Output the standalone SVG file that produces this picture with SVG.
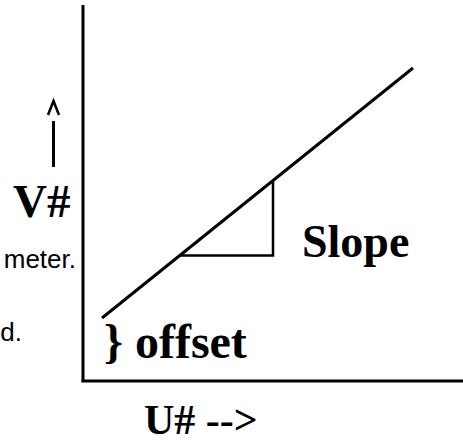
<svg xmlns="http://www.w3.org/2000/svg" width="463" height="443" viewBox="0 0 463 443">
<style>
.ln{stroke:#000;fill:none;stroke-linecap:butt}
.b{font-family:"Liberation Serif","Times New Roman",serif;font-weight:bold;fill:#000}
.s{font-family:"Liberation Sans",Arial,sans-serif;fill:#000}
</style>
<rect width="463" height="443" fill="#fff"/>
<g id="axes">
<line class="ln" x1="83" y1="5" x2="83" y2="382" stroke-width="3"/>
<line class="ln" x1="81.5" y1="381" x2="463" y2="381" stroke-width="3"/>
</g>
<g id="connectors">
<line class="ln" x1="102" y1="318" x2="413" y2="68" stroke-width="3"/>
<polyline class="ln" points="180,255.5 273,255.5 273,180" stroke-width="2.5"/>
<polyline class="ln" points="48,115 53.5,101 59,115" stroke-width="2.5"/>
<line class="ln" x1="53.5" y1="121" x2="53.5" y2="167" stroke-width="3"/>
</g>
<g id="label-v"><text class="b" x="13" y="217" font-size="47">V#</text></g>
<g id="label-slope"><text class="b" x="302" y="257" font-size="46">Slope</text></g>
<g id="label-offset"><text class="b" x="104" y="358" font-size="48">} offset</text></g>
<g id="label-u"><text class="b" x="144" y="434" font-size="42">U# --&gt;</text></g>
<g id="label-meter"><text class="s" x="76" y="268" font-size="26" text-anchor="end">meter.</text></g>
<g id="label-d"><text class="s" x="22" y="341" font-size="26" text-anchor="end">d.</text></g>
</svg>
